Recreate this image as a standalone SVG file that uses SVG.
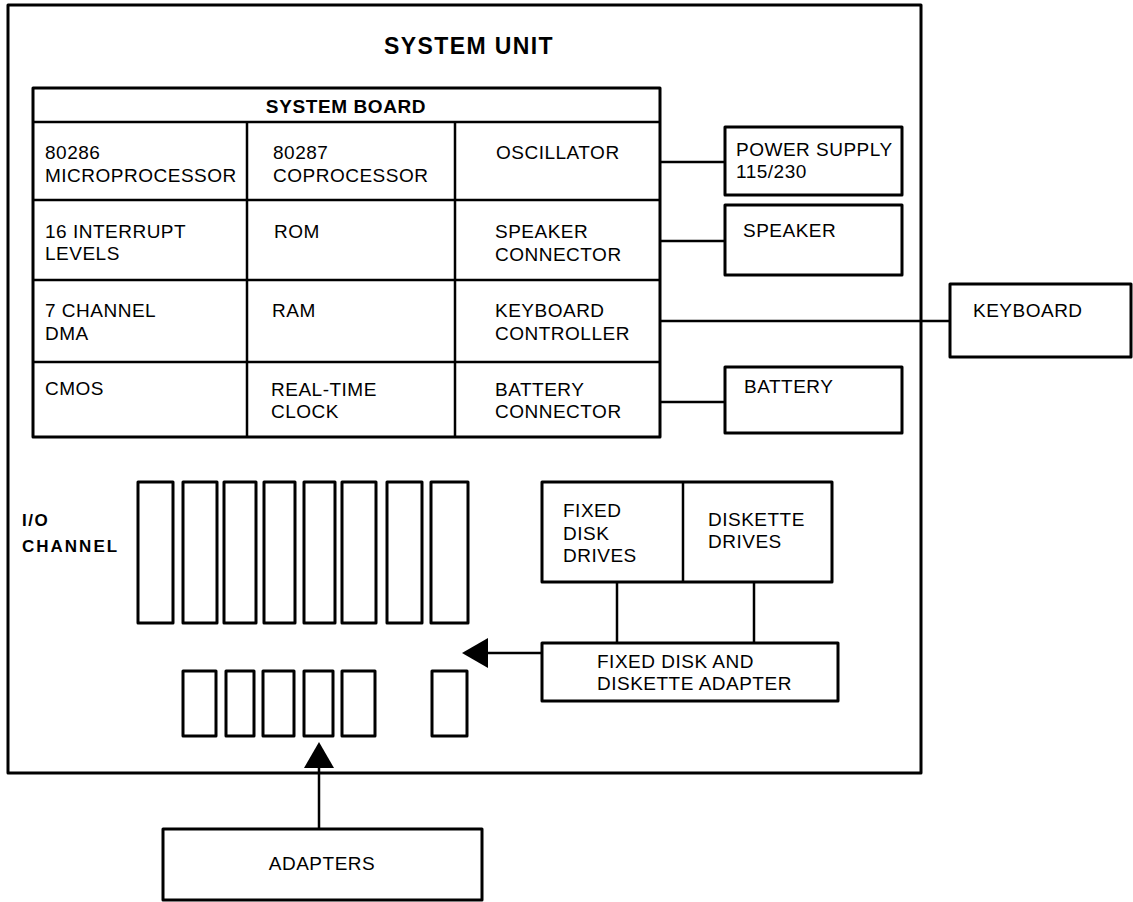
<svg xmlns="http://www.w3.org/2000/svg" width="1133" height="902" viewBox="0 0 1133 902">
<style>
.b{fill:none;stroke:#000;stroke-width:3;stroke-linejoin:round}
.l{fill:none;stroke:#000;stroke-width:2.5}
.t{font-family:"Liberation Sans",Arial,sans-serif;font-size:19px;letter-spacing:0.5px;fill:#000}
.h{font-family:"Liberation Sans",Arial,sans-serif;font-weight:bold;fill:#000}
</style>
<defs>
<marker id="ah" viewBox="0 0 26 30" refX="0" refY="15" markerWidth="26" markerHeight="30" markerUnits="userSpaceOnUse" orient="auto-start-reverse">
<path d="M0,0 L26,15 L0,30 Z" fill="#000"/>
</marker>
</defs>
<rect width="1133" height="902" fill="#fff"/>

<g id="system-unit">
<rect class="b" x="8" y="5" width="913" height="768"/>
<text class="h" x="469" y="54" font-size="23" letter-spacing="1.4" text-anchor="middle">SYSTEM UNIT</text>
</g>

<g id="system-board">
<rect class="b" x="33" y="88" width="627" height="349"/>
<line class="l" x1="33" y1="122" x2="660" y2="122"/>
<line class="l" x1="247" y1="122" x2="247" y2="437"/>
<line class="l" x1="455" y1="122" x2="455" y2="437"/>
<line class="l" x1="33" y1="200" x2="660" y2="200"/>
<line class="l" x1="33" y1="280" x2="660" y2="280"/>
<line class="l" x1="33" y1="362" x2="660" y2="362"/>
<text class="h" x="346" y="113" font-size="19" letter-spacing="0.6" text-anchor="middle">SYSTEM BOARD</text>
</g>
<g id="cell-80286"><text class="t" x="45" y="159">80286</text><text class="t" x="45" y="182">MICROPROCESSOR</text></g>
<g id="cell-80287"><text class="t" x="273" y="159">80287</text><text class="t" x="273" y="182">COPROCESSOR</text></g>
<g id="cell-osc"><text class="t" x="496" y="159">OSCILLATOR</text></g>
<g id="cell-int"><text class="t" x="45" y="238">16 INTERRUPT</text><text class="t" x="45" y="260">LEVELS</text></g>
<g id="cell-rom"><text class="t" x="274" y="238">ROM</text></g>
<g id="cell-spkconn"><text class="t" x="495" y="238">SPEAKER</text><text class="t" x="495" y="261">CONNECTOR</text></g>
<g id="cell-dma"><text class="t" x="45" y="317">7 CHANNEL</text><text class="t" x="45" y="340">DMA</text></g>
<g id="cell-ram"><text class="t" x="272" y="317">RAM</text></g>
<g id="cell-kbc"><text class="t" x="495" y="317">KEYBOARD</text><text class="t" x="495" y="340">CONTROLLER</text></g>
<g id="cell-cmos"><text class="t" x="45" y="395">CMOS</text></g>
<g id="cell-rtc"><text class="t" x="271" y="396">REAL-TIME</text><text class="t" x="271" y="418">CLOCK</text></g>
<g id="cell-batconn"><text class="t" x="495" y="396">BATTERY</text><text class="t" x="495" y="418">CONNECTOR</text></g>

<g id="power-supply"><rect class="b" x="725" y="127" width="177" height="68"/><text class="t" x="736" y="156">POWER SUPPLY</text><text class="t" x="736" y="178">115/230</text></g>
<g id="speaker"><rect class="b" x="725" y="205" width="177" height="70"/><text class="t" x="743" y="237">SPEAKER</text></g>
<g id="keyboard"><rect class="b" x="950" y="284" width="181" height="73"/><text class="t" x="973" y="317">KEYBOARD</text></g>
<g id="battery"><rect class="b" x="725" y="367" width="177" height="66"/><text class="t" x="744" y="393">BATTERY</text></g>

<g id="io-channel">
<text class="h" x="22" y="526" font-size="17" letter-spacing="1.5">I/O</text>
<text class="h" x="22" y="552" font-size="17" letter-spacing="2">CHANNEL</text>
<rect class="b" x="138" y="482" width="35" height="141"/>
<rect class="b" x="183" y="482" width="34" height="141"/>
<rect class="b" x="224" y="482" width="32" height="141"/>
<rect class="b" x="264" y="482" width="31" height="141"/>
<rect class="b" x="304" y="482" width="31" height="141"/>
<rect class="b" x="342" y="482" width="34" height="141"/>
<rect class="b" x="387" y="482" width="35" height="141"/>
<rect class="b" x="431" y="482" width="37" height="141"/>
<rect class="b" x="183" y="671" width="33" height="65"/>
<rect class="b" x="226" y="671" width="28" height="65"/>
<rect class="b" x="263" y="671" width="31" height="65"/>
<rect class="b" x="304" y="671" width="29" height="65"/>
<rect class="b" x="342" y="671" width="33" height="65"/>
<rect class="b" x="432" y="671" width="35" height="65"/>
</g>

<g id="drives">
<rect class="b" x="542" y="482" width="290" height="100"/>
<line class="l" x1="683" y1="482" x2="683" y2="582"/>
<text class="t" x="563" y="517">FIXED</text><text class="t" x="563" y="540">DISK</text><text class="t" x="563" y="562">DRIVES</text>
<text class="t" x="708" y="526">DISKETTE</text><text class="t" x="708" y="548">DRIVES</text>
</g>
<g id="disk-adapter">
<rect class="b" x="542" y="643" width="296" height="58"/>
<text class="t" x="597" y="668">FIXED DISK AND</text><text class="t" x="597" y="690">DISKETTE ADAPTER</text>
</g>
<g id="adapters">
<rect class="b" x="163" y="829" width="319" height="71"/>
<text class="t" x="322" y="870" text-anchor="middle">ADAPTERS</text>
</g>

<g id="connectors">
<line class="l" x1="660" y1="162" x2="725" y2="162"/>
<line class="l" x1="660" y1="241" x2="725" y2="241"/>
<line class="l" x1="660" y1="321" x2="950" y2="321"/>
<line class="l" x1="660" y1="402" x2="725" y2="402"/>
<line class="l" x1="617" y1="582" x2="617" y2="643"/>
<line class="l" x1="754" y1="582" x2="754" y2="643"/>
<line class="l" x1="542" y1="653" x2="488" y2="653" marker-end="url(#ah)"/>
<line class="l" x1="319" y1="829" x2="319" y2="768" marker-end="url(#ah)"/>
</g>
</svg>
